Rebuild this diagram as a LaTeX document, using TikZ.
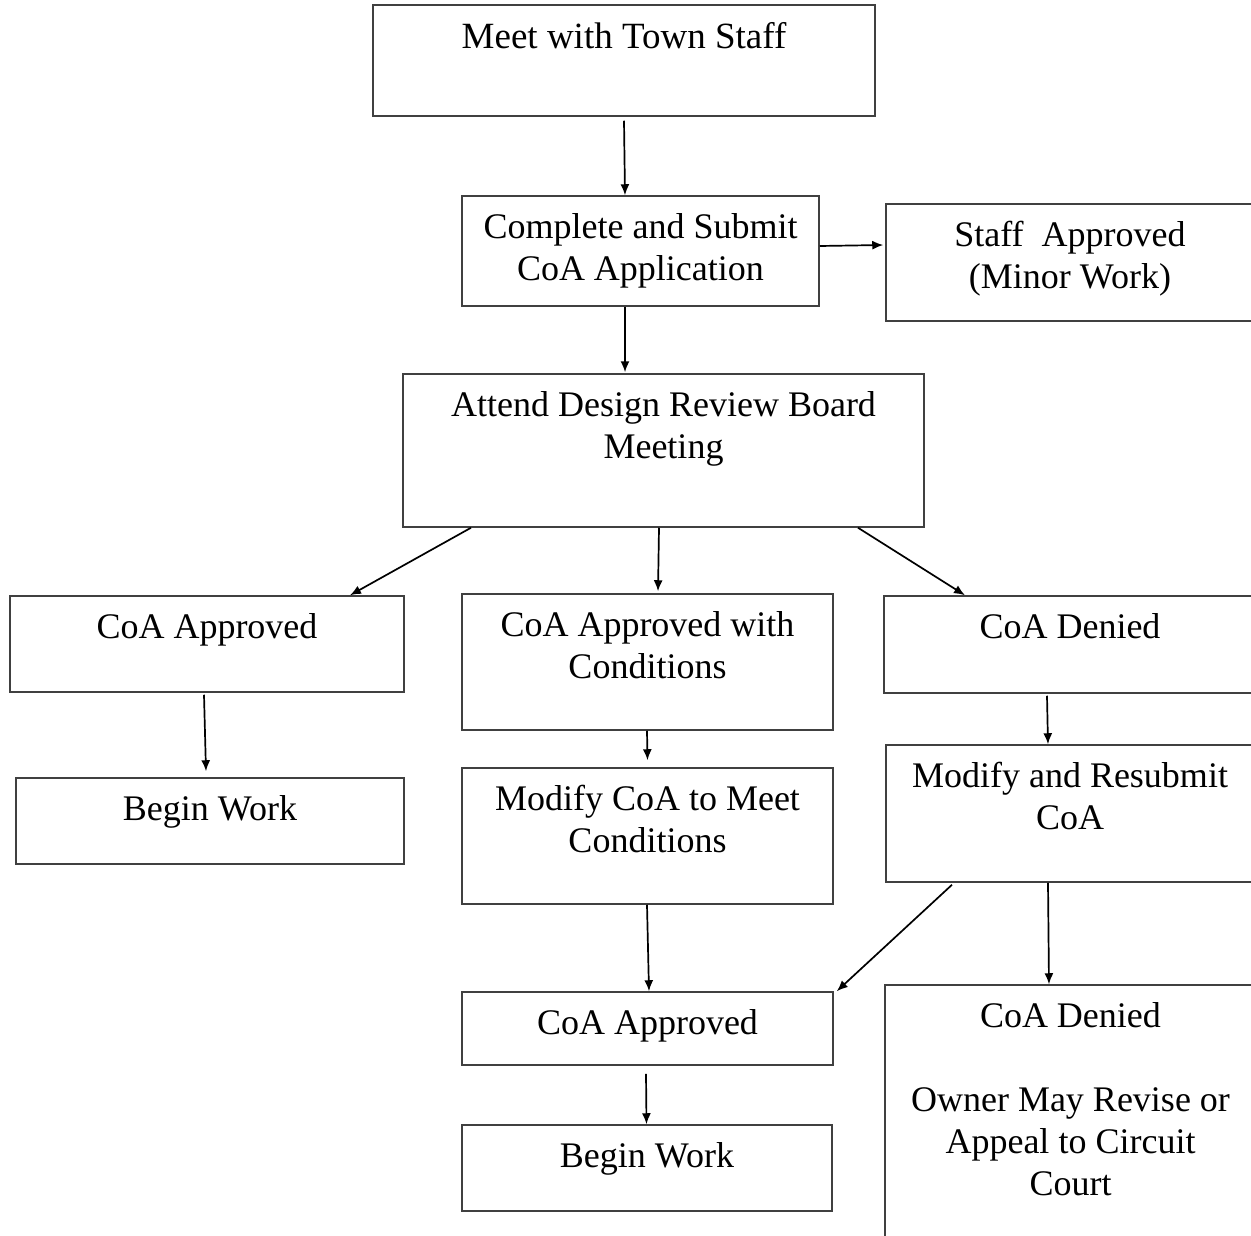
\documentclass[tikz,border=0pt]{standalone}
\usepackage{fontspec}
\setmainfont{Liberation Serif}
\usepackage{tikz}
\usetikzlibrary{positioning}
\usetikzlibrary{shapes,arrows.meta}
\tikzstyle{block} = [rectangle, draw=black!75, line width=1.5pt, inner sep=0pt]
\tikzstyle{txt} = [anchor=north, yshift=-18pt, align=center, inner sep=0pt,
    font=\fontsize{36}{42}\selectfont]
\tikzstyle{line} = [draw, line width=1.7pt, -{Latex[length=11pt, width=9pt]}]

\begin{document}
\begin{tikzpicture}[x=1pt, y=-1pt]
        \useasboundingbox (0,0) rectangle (1251,1236);
        \clip (0,0) rectangle (1251,1236);
            % Nodes
        \node [block, minimum width=502pt, minimum height=111pt,
            label={[txt, font=\fontsize{37}{42}\selectfont]north:Meet with Town Staff}] (meet) at (624,60.5) {};
        \node [block, minimum width=357pt, minimum height=110pt,
            label={[txt]north:Complete and Submit\\CoA Application}] (apply) at (640.5,251) {};
        \node [block, minimum width=368pt, minimum height=117pt,
            label={[txt]north:Staff~ Approved\\(Minor Work)}] (staff) at (1070,262.5) {};
        \node [block, minimum width=521pt, minimum height=153pt,
            label={[txt]north:Attend Design Review Board\\Meeting}] (attend) at (663.5,450.5) {};
        \node [block, minimum width=394pt, minimum height=96pt,
            label={[txt]north:CoA Approved}] (appr) at (207,644) {};
        \node [block, minimum width=371pt, minimum height=136pt,
            label={[txt]north:CoA Approved with\\Conditions}] (cond) at (647.5,662) {};
        \node [block, minimum width=372pt, minimum height=97pt,
            label={[txt]north:CoA Denied}] (denied) at (1070,644.5) {};
        \node [block, minimum width=388pt, minimum height=86pt,
            label={[txt]north:Begin Work}] (work) at (210,821) {};
        \node [block, minimum width=371pt, minimum height=136pt,
            label={[txt]north:Modify CoA to Meet\\Conditions}] (modify) at (647.5,836) {};
        \node [block, minimum width=368pt, minimum height=137pt,
            label={[txt]north:Modify and Resubmit\\CoA}] (resub) at (1070,813.5) {};
        \node [block, minimum width=371pt, minimum height=73pt,
            label={[txt]north:CoA Approved}] (appr2) at (647.5,1028.5) {};
        \node [block, minimum width=371pt, minimum height=315pt,
            label={[txt]north:CoA Denied\\[42pt]Owner May Revise or\\Appeal to Circuit\\Court}] (final) at (1070.5,1142.5) {};
        \node [block, minimum width=370pt, minimum height=86pt,
            label={[txt]north:Begin Work}] (work2) at (647,1168) {};
            % Edges
        \path [line] ([yshift=-4pt]meet.south) -- ([xshift=-15.5pt]apply.north);
        \path [line] ([yshift=5pt]apply.east) -- ([xshift=-2pt, yshift=17.5pt]staff.west);
        \path [line] ([xshift=-15.5pt]apply.south) -- ([xshift=-38.5pt, yshift=1pt]attend.north);
        \path [line] ([xshift=-192.5pt]attend.south) -- ([xshift=143pt]appr.north);
        \path [line] ([xshift=-4.5pt]attend.south) -- ([xshift=10.5pt, yshift=2pt]cond.north);
        \path [line] ([xshift=194.5pt]attend.south) -- ([xshift=-105pt]denied.north);
        \path [line] ([xshift=-3pt, yshift=-2pt]appr.south) -- ([xshift=-4pt, yshift=6pt]work.north);
        \path [line] ([xshift=-0.5pt]cond.south) -- ([yshift=7pt]modify.north);
        \path [line] ([xshift=-23pt, yshift=-2pt]denied.south) -- ([xshift=-22pt]resub.north);
        \path [line] ([xshift=-0.5pt]modify.south) -- ([xshift=1.5pt]appr2.north);
        \path [line] ([xshift=-118pt, yshift=-2pt]resub.south) -- ([xshift=3pt]appr2.north east);
        \path [line] ([xshift=-22pt]resub.south) -- ([xshift=-21.5pt]final.north);
        \path [line] ([xshift=-1.5pt, yshift=-8pt]appr2.south) -- ([xshift=-0.5pt]work2.north);
\end{tikzpicture}
\end{document}
